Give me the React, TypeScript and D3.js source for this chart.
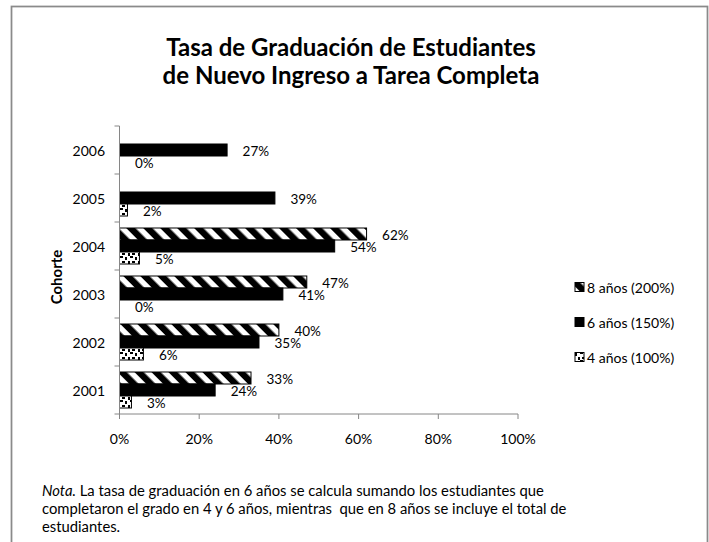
import React from 'react';
import * as d3 from 'd3';

const cohorts = ['2006', '2005', '2004', '2003', '2002', '2001'];
const seriesKeys = ['8', '6', '4'];
const seriesNames = ['8 años (200%)', '6 años (150%)', '4 años (100%)'];
const eightYear: (number | null)[] = [null, null, 0.62, 0.47, 0.40, 0.33];
const sixYear: (number | null)[] = [0.27, 0.39, 0.54, 0.41, 0.35, 0.24];
const fourYear: (number | null)[] = [0.0, 0.02, 0.05, 0.0, 0.06, 0.03];
const xTicks = [0, 0.2, 0.4, 0.6, 0.8, 1.0];
const titleLines = ['Tasa de Graduación de Estudiantes', 'de Nuevo Ingreso a Tarea Completa'];
const yAxisTitle = 'Cohorte';
const noteLabel = 'Nota.';
const noteLines = [
  ' La tasa de graduación en 6 años se calcula sumando los estudiantes que',
  'completaron el grado en 4 y 6 años, mientras  que en 8 años se incluye el total de',
  'estudiantes.',
];

const W = 709;
const H = 542;
const FONT = "Lato, 'Open Sans', sans-serif";
const AXIS = '#868686';

export default function App() {
  const x = d3.scaleLinear().domain([0, 1]).range([119.5, 518]);
  const y = d3.scaleBand<string>().domain(cohorts).range([126, 414]).paddingInner(0.25).paddingOuter(0.125);
  const inner = d3.scaleBand<string>().domain(seriesKeys).range([0, y.bandwidth()]);
  const seriesVals = [eightYear, sixYear, fourYear];
  const fills = ['url(#pat8)', '#000', 'url(#pat4)'];
  const pct = d3.format('.0%');
  const [y0, y1] = y.range();
  const boundaries = d3.range(cohorts.length + 1).map((i) => y0 + i * y.step());
  const legendY = d3.scalePoint<string>().domain(seriesNames).range([287, 357]);

  return (
    <div style={{ position: 'fixed', left: 0, top: 0, width: W, height: H, background: '#fff' }}>
      <svg width={W} height={H} style={{ display: 'block', fontFamily: FONT }}>
        <defs>
          <pattern id="pat8" patternUnits="userSpaceOnUse" width={12} height={12} patternTransform="rotate(-45)">
            <rect width={12} height={12} fill="#fff" />
            <rect width={6.5} height={12} fill="#000" />
          </pattern>
          <pattern id="pat4" patternUnits="userSpaceOnUse" width={10} height={8}>
            <rect width={10} height={8} fill="#fff" />
            <rect x={0} y={0} width={3} height={2} fill="#000" />
            <rect x={5} y={1} width={2} height={3} fill="#000" />
            <rect x={2} y={5} width={3} height={2} fill="#000" />
            <rect x={8} y={5} width={2} height={3} fill="#000" />
          </pattern>
        </defs>
        <rect x={0} y={0} width={W} height={H} fill="#fff" />
        <rect x={11.5} y={6.5} width={696} height={560} fill="none" stroke="#8a8a8a" strokeWidth={1.75} />

        {titleLines.map((t, i) => (
          <text key={t} x={351} y={56 + i * 28} textAnchor="middle" fontSize={24} fontWeight="bold" fill="#000">
            {t}
          </text>
        ))}

        {/* bars */}
        {seriesVals.map((vals, si) =>
          vals.map((v, ci) => {
            if (v === null) return null;
            const by = (y(cohorts[ci]) as number) + (inner(seriesKeys[si]) as number);
            const bh = inner.bandwidth();
            return (
              <g key={`${si}-${ci}`}>
                <rect
                  x={x(0)}
                  y={by}
                  width={Math.max(0, x(v) - x(0))}
                  height={bh}
                  fill={fills[si]}
                  stroke={v > 0 ? '#000' : 'none'}
                  strokeWidth={1}
                />
                <text x={x(v) + 15.5} y={by + bh / 2 + 1} dominantBaseline="central" fontSize={13.5} fill="#000">
                  {pct(v)}
                </text>
              </g>
            );
          })
        )}

        {/* y axis */}
        <line x1={x(0)} x2={x(0)} y1={y0} y2={y1} stroke={AXIS} strokeWidth={1} />
        {boundaries.map((b) => (
          <line key={b} x1={x(0) - 5} x2={x(0)} y1={b} y2={b} stroke={AXIS} strokeWidth={1} />
        ))}
        {cohorts.map((c) => (
          <text key={c} x={105} y={(y(c) as number) + y.bandwidth() / 2} dominantBaseline="central" textAnchor="end" fontSize={14} fill="#000">
            {c}
          </text>
        ))}
        <text transform={`translate(56,277) rotate(-90)`} textAnchor="middle" dominantBaseline="central" fontSize={15} fontWeight="bold" fill="#000">
          {yAxisTitle}
        </text>

        {/* x axis */}
        <line x1={x(0)} x2={x(1)} y1={y1} y2={y1} stroke={AXIS} strokeWidth={1} />
        {xTicks.map((t) => (
          <g key={t}>
            <line x1={x(t)} x2={x(t)} y1={y1} y2={y1 + 5} stroke={AXIS} strokeWidth={1} />
            <text x={x(t)} y={438} textAnchor="middle" dominantBaseline="central" fontSize={14} fill="#000">
              {pct(t)}
            </text>
          </g>
        ))}

        {/* legend */}
        {seriesNames.map((n, i) => {
          const ly = legendY(n) as number;
          return (
            <g key={n}>
              <rect x={575} y={ly - 4.5} width={9} height={9} fill={fills[i]} stroke="#000" strokeWidth={1} />
              <text x={587} y={ly} dominantBaseline="central" fontSize={14} fill="#000">
                {n}
              </text>
            </g>
          );
        })}

        {/* note */}
        <text x={42} y={496} fontSize={14.8} fill="#000" style={{ whiteSpace: 'pre' }}>
          <tspan fontStyle="italic">{noteLabel}</tspan>
          <tspan>{noteLines[0]}</tspan>
        </text>
        {noteLines.slice(1).map((l, i) => (
          <text key={i} x={42} y={514 + i * 18} fontSize={14.8} fill="#000" style={{ whiteSpace: 'pre' }}>
            {l}
          </text>
        ))}
      </svg>
    </div>
  );
}
